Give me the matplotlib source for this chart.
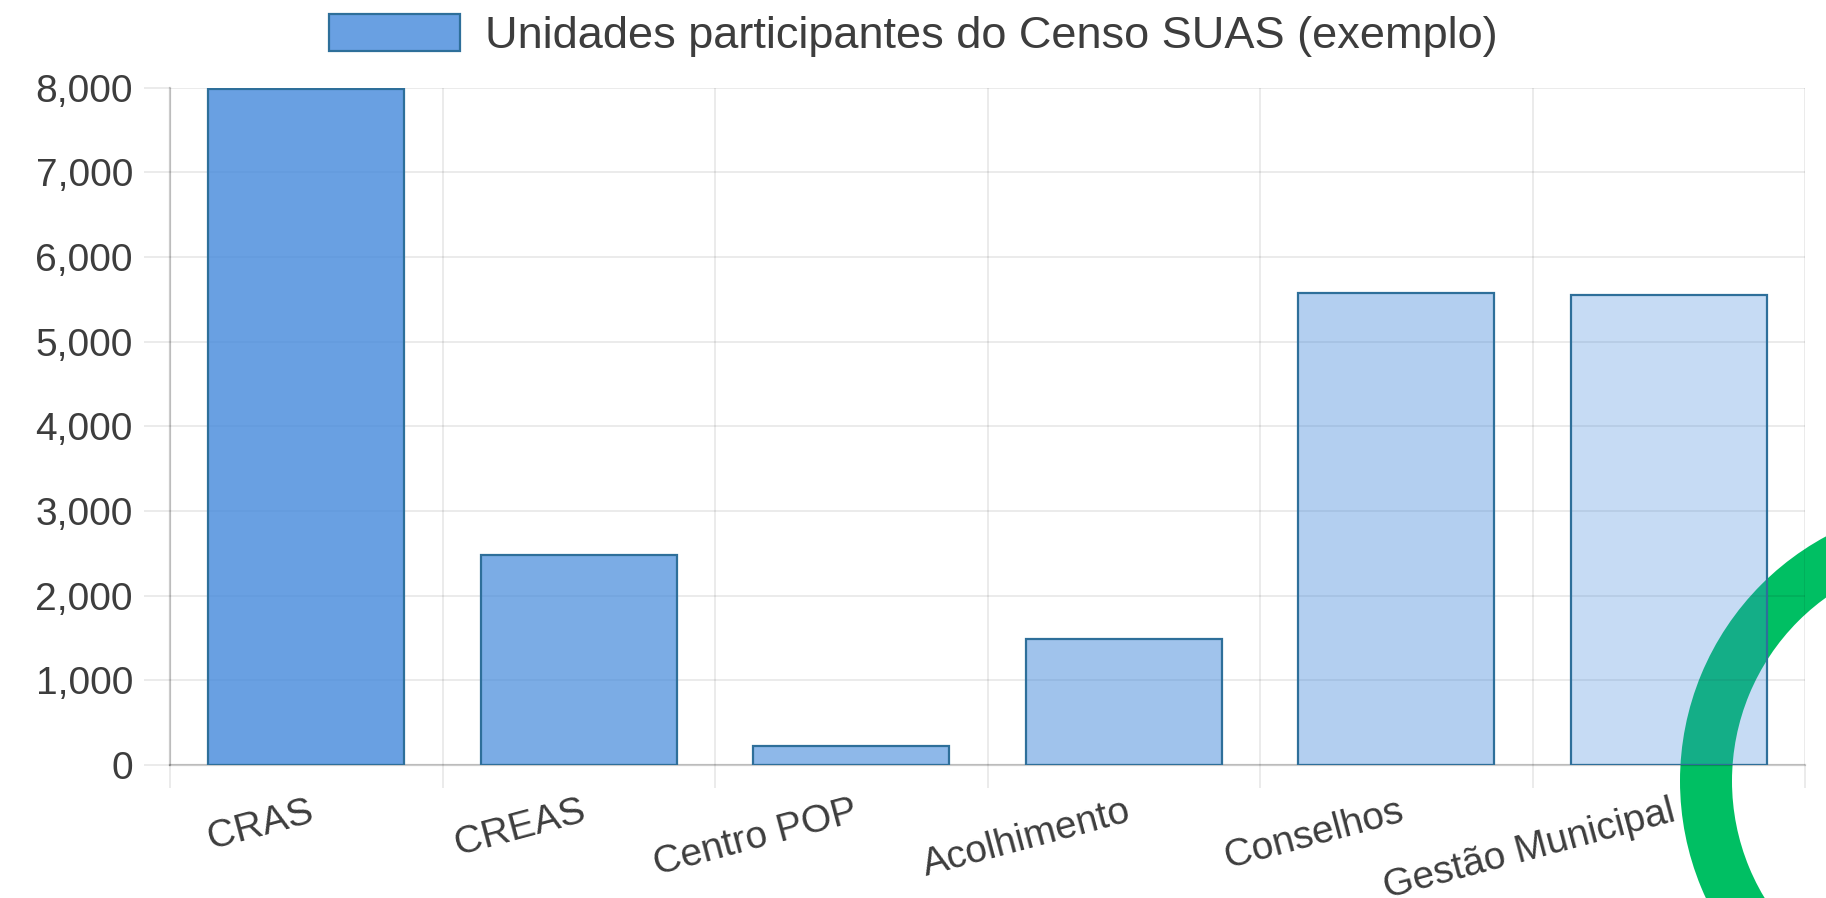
import matplotlib
matplotlib.use("Agg")
import matplotlib.pyplot as plt
from matplotlib.patches import Wedge
from matplotlib.transforms import IdentityTransform, ScaledTranslation

# data
categorias = ["CRAS", "CREAS", "Centro POP", "Acolhimento", "Conselhos", "Gestão Municipal"]
unidades = [7990, 2480, 220, 1490, 5580, 5550]
opacidades = [0.8, 0.7, 0.6, 0.5, 0.4, 0.3]
yticks = [0, 1000, 2000, 3000, 4000, 5000, 6000, 7000, 8000]
serie = "Unidades participantes do Censo SUAS (exemplo)"

base = (67/255, 137/255, 219/255)
borda = "#2e6f9a"
texto = "#3d3d3d"
grade = (0, 0, 0, 0.1)

plt.rcParams['font.family'] = ['Liberation Sans', 'DejaVu Sans']

W, H = 1826, 898
fig = plt.figure(figsize=(W/100, H/100), dpi=100)
ax = fig.add_axes([170/W, (H-765)/H, (1805-170)/W, (765-87.7)/H])
ax.set_facecolor("none")

# green ring decoration behind the chart
anel = Wedge((1958, H-781), 278, 0, 360, width=52, transform=IdentityTransform(),
             facecolor="#00bf63", edgecolor="none", zorder=-1)
fig.add_artist(anel)

cores = [(base[0], base[1], base[2], a) for a in opacidades]
x = list(range(len(categorias)))
ax.bar(x, unidades, width=0.72, color=cores, edgecolor=borda, linewidth=1.6,
       label=serie, zorder=3)

ax.set_xlim(-0.5, len(categorias)-0.5)
ax.set_ylim(0, 8000)

# major x ticks on category borders (grid), minor ticks for labels
ax.set_xticks([i - 0.5 for i in range(len(categorias)+1)])
ax.set_xticklabels([])
ax.set_xticks(x, minor=True)
ax.set_xticklabels(categorias, minor=True, fontsize=28, color=texto)
ax.tick_params(axis='x', which='major', length=16.5, width=1.1, color=grade)
ax.tick_params(axis='x', which='minor', length=0, pad=36)
desloc = ScaledTranslation(6/100, 4/100, fig.dpi_scale_trans)
for lab in ax.get_xticklabels(minor=True):
    lab.set_rotation(15)
    lab.set_ha('right')
    lab.set_va('center')
    lab.set_rotation_mode('anchor')
    lab.set_transform(lab.get_transform() + desloc)

ax.set_yticks(yticks)
ax.set_yticklabels([f"{v:,}" for v in yticks], fontsize=28, color=texto)
ax.tick_params(axis='y', length=18.7, width=1.1, color=grade, pad=8)

ax.grid(True, which='major', color='black', alpha=0.1, linewidth=1.1)
ax.set_axisbelow(True)
for s in ['top', 'right']:
    ax.spines[s].set_visible(False)
for s in ['left', 'bottom']:
    ax.spines[s].set_color((0, 0, 0, 0.2))
    ax.spines[s].set_linewidth(1.6)

fig.legend(loc='center', bbox_to_anchor=(0.5, (H-35.5)/H), frameon=False,
           fontsize=32.5, labelcolor=texto, handlelength=2.9, handleheight=0.9,
           handletextpad=0.55)

fig.savefig("out.png", dpi=100)
